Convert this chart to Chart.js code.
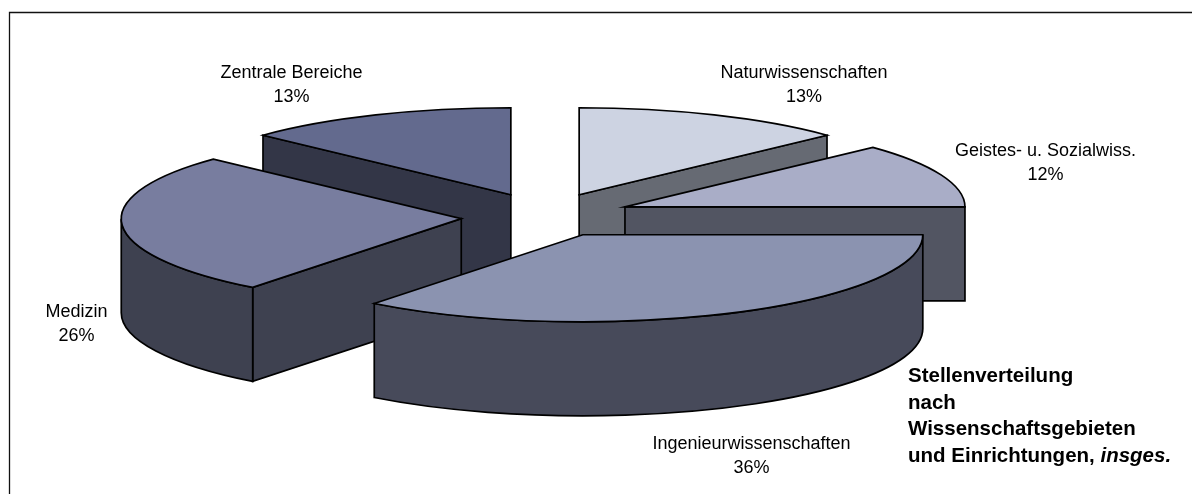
<!DOCTYPE html>
<html><head><meta charset="utf-8">
<style>html,body{margin:0;padding:0;background:#fff}canvas{display:block}</style>
<script src="https://cdn.jsdelivr.net/npm/chart.js@4"></script>
</head><body>
<canvas id="c" width="1192" height="494"></canvas>
<script>
const categories = ["Naturwissenschaften","Geistes- u. Sozialwiss.","Ingenieurwissenschaften","Medizin","Zentrale Bereiche"];
const shares = [13,12,35.51,26.49,13];
const topColors = ["#CDD3E2","#A9ADC7","#8B93B0","#787D9F","#636A8E"];
const wallColors = ["#666A73","#525562","#474A5A","#3E4150","#333647"];
const titleLines = [["Stellenverteilung"],["nach"],["Wissenschaftsgebieten"],["und Einrichtungen, ","insges."]];

const view = {squash:0.256, depth:94, line:1.7};
const explodeBy = [86,86,86,84,86];
const settle = [0,0,0,2,0];
const labelAnchors = [[804,73.5],[1045.5,151],[751.5,444],[76.5,312],[291.5,73.5]];

const pie3d = {
  id:'pie3d',
  beforeDatasetsDraw(chart){
    const ctx = chart.ctx, arcs = chart.getDatasetMeta(0).data, s = view.squash, d = view.depth;
    const order = arcs.map((a,i)=>i).sort((i,j)=>{
      const m = k=>Math.sin((arcs[k].startAngle+arcs[k].endAngle)/2);
      return m(i)-m(j);
    });
    ctx.save();
    ctx.lineWidth = view.line; ctx.strokeStyle = '#000'; ctx.lineJoin = 'miter';
    for (const i of order){
      const a = arcs[i], mid = (a.startAngle+a.endAngle)/2;
      const ox = a.x + Math.cos(mid)*explodeBy[i];
      const oy = a.y + Math.sin(mid)*explodeBy[i]*s + settle[i];
      const r = a.outerRadius, st = a.startAngle, en = a.endAngle;
      const px = t=>ox+r*Math.cos(t), py = t=>oy+r*s*Math.sin(t);
      ctx.fillStyle = wallColors[i];
      const side = t=>{
        ctx.beginPath(); ctx.moveTo(ox,oy); ctx.lineTo(px(t),py(t));
        ctx.lineTo(px(t),py(t)+d); ctx.lineTo(ox,oy+d); ctx.closePath();
        ctx.fill(); ctx.stroke();
      };
      if (-Math.cos(st)>0) side(st);
      if (Math.cos(en)>0) side(en);
      const w1 = Math.max(st,0), w2 = Math.min(en,Math.PI);
      if (w2>w1){
        ctx.beginPath();
        ctx.ellipse(ox,oy,r,r*s,0,w1,w2);
        ctx.ellipse(ox,oy+d,r,r*s,0,w2,w1,true);
        ctx.closePath(); ctx.fill(); ctx.stroke();
      }
      ctx.save();
      ctx.translate(ox,oy); ctx.scale(1,s); ctx.translate(-a.x,-a.y);
      a.draw(ctx);
      ctx.restore();
      ctx.beginPath(); ctx.moveTo(ox,oy);
      ctx.ellipse(ox,oy,r,r*s,0,st,en);
      ctx.closePath(); ctx.stroke();
    }
    ctx.restore();
    return false;
  },
  afterDraw(chart){
    const ctx = chart.ctx;
    ctx.save();
    ctx.strokeStyle = '#111'; ctx.lineWidth = 1.3;
    ctx.beginPath(); ctx.moveTo(9.5,494); ctx.lineTo(9.5,12.5); ctx.lineTo(1192,12.5); ctx.stroke();
    ctx.fillStyle = '#000'; ctx.textBaseline = 'middle';
    ctx.font = '18px "Liberation Sans", Arial, sans-serif'; ctx.textAlign = 'center';
    categories.forEach((c,i)=>{
      const [x,y] = labelAnchors[i];
      ctx.fillText(c,x,y);
      ctx.fillText(Math.round(shares[i])+'%',x,y+24);
    });
    ctx.textAlign = 'left';
    titleLines.forEach((parts,i)=>{
      const y = 376.5+i*26.6; let x = 908;
      parts.forEach((t,j)=>{
        ctx.font = (j? 'italic ':'')+'bold 20.5px "Liberation Sans", Arial, sans-serif';
        ctx.fillText(t,x,y); x += ctx.measureText(t).width;
      });
    });
    ctx.restore();
  }
};

new Chart(document.getElementById('c'),{
  type:'pie',
  data:{labels:categories,datasets:[{data:shares,backgroundColor:topColors,borderWidth:0,radius:340}]},
  options:{
    responsive:false,animation:false,
    layout:{padding:{left:0,top:0,right:102,bottom:64}},
    plugins:{legend:{display:false},tooltip:{enabled:false},title:{display:false}}
  },
  plugins:[pie3d]
});
</script>
</body></html>
